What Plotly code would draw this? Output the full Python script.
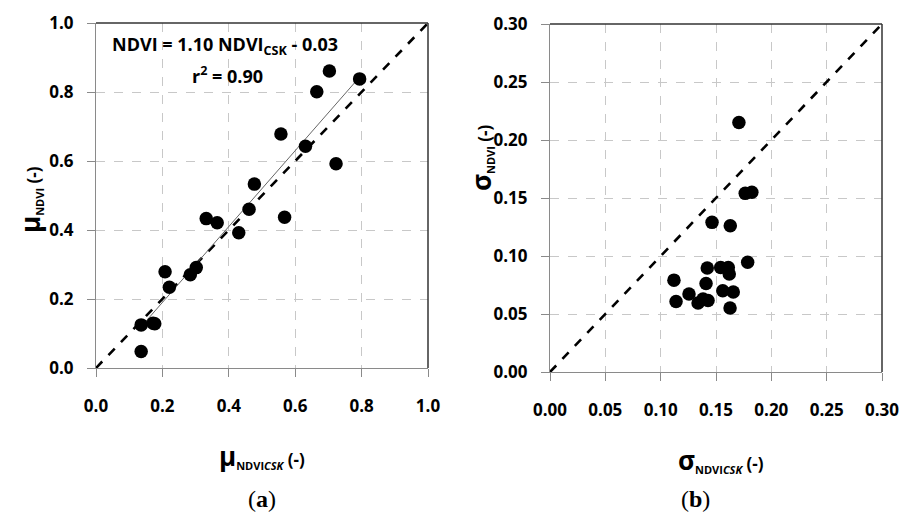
import plotly.graph_objects as go

# Panel (a): mean NDVI, field vs CSK-derived
mu_csk = [0.136, 0.136, 0.172, 0.177, 0.208, 0.221, 0.284, 0.302, 0.332, 0.365,
          0.430, 0.461, 0.477, 0.568, 0.557, 0.631, 0.665, 0.703, 0.723, 0.794]
mu_ndvi = [0.048, 0.125, 0.130, 0.128, 0.279, 0.234, 0.270, 0.291, 0.433, 0.421,
           0.392, 0.460, 0.533, 0.437, 0.678, 0.643, 0.801, 0.861, 0.592, 0.838]

# Panel (b): standard deviation of NDVI
sd_csk = [0.1707, 0.1764, 0.1824, 0.1464, 0.1629, 0.1786, 0.1421, 0.1542, 0.1611,
          0.1620, 0.1120, 0.1410, 0.1256, 0.1561, 0.1656, 0.1139, 0.1338, 0.1383,
          0.1428, 0.1627]
sd_ndvi = [0.215, 0.154, 0.155, 0.129, 0.126, 0.0947, 0.0896, 0.0901, 0.0901,
           0.0844, 0.0792, 0.0763, 0.0672, 0.0700, 0.0689, 0.0608, 0.0594, 0.0629,
           0.0617, 0.0551]

# Linear fit reported on panel (a)
slope, intercept, r2 = 1.10, -0.03, 0.90

a_ticks = [0.0, 0.2, 0.4, 0.6, 0.8, 1.0]
b_ticks = [0.00, 0.05, 0.10, 0.15, 0.20, 0.25, 0.30]

fig = go.Figure()

marker = dict(color="black", size=13.5)

# 1:1 lines
fig.add_trace(go.Scatter(x=[0, 1], y=[0, 1], mode="lines",
                         line=dict(color="black", width=2.6, dash="dash"),
                         xaxis="x", yaxis="y", showlegend=False))
fig.add_trace(go.Scatter(x=[0, 0.3], y=[0, 0.3], mode="lines",
                         line=dict(color="black", width=2.6, dash="dash"),
                         xaxis="x2", yaxis="y2", showlegend=False))

# regression line over the data range
x0, x1 = min(mu_csk), max(mu_csk)
fig.add_trace(go.Scatter(x=[x0, x1], y=[slope * x0 + intercept, slope * x1 + intercept],
                         mode="lines", line=dict(color="#666666", width=1),
                         xaxis="x", yaxis="y", showlegend=False))

fig.add_trace(go.Scatter(x=mu_csk, y=mu_ndvi, mode="markers", marker=marker,
                         xaxis="x", yaxis="y", showlegend=False))
fig.add_trace(go.Scatter(x=sd_csk, y=sd_ndvi, mode="markers", marker=marker,
                         xaxis="x2", yaxis="y2", showlegend=False))

tickfont = dict(family="Open Sans", size=17, color="black", weight="bold")
common = dict(showgrid=True, gridcolor="#c8c8c8", griddash="dash", gridwidth=1,
              zeroline=False, showline=True, linecolor="#8a8a8a", linewidth=1.2,
              ticks="outside", ticklen=8, tickcolor="#8a8a8a", tickfont=tickfont,
              mirror=False, automargin=False)

W, H = 905, 517
def px(v):
    return v / W
def py(v):
    return 1 - v / H

fig.update_layout(
    width=W, height=H, margin=dict(l=0, r=0, t=0, b=0),
    paper_bgcolor="white", plot_bgcolor="white",
    xaxis=dict(domain=[px(96), px(428)], range=[0, 1], tickvals=a_ticks,
               tickformat=".1f", anchor="y", ticklabelstandoff=14, **common),
    yaxis=dict(domain=[py(368), py(23)], range=[0, 1], tickvals=a_ticks,
               tickformat=".1f", anchor="x", ticklabelstandoff=10, **common),
    xaxis2=dict(domain=[px(550), px(882)], range=[0, 0.3], tickvals=b_ticks,
                tickformat=".2f", anchor="y2", ticklabelstandoff=14, **common),
    yaxis2=dict(domain=[py(372), py(24)], range=[0, 0.3], tickvals=b_ticks,
                tickformat=".2f", anchor="x2", ticklabelstandoff=10, **common),
)

# darker top/right frame edges
for xr, yr in (("x domain", "y domain"), ("x2 domain", "y2 domain")):
    fig.add_shape(type="line", xref=xr, yref=yr, x0=0, x1=1, y0=1, y1=1,
                  line=dict(color="#333333", width=1.5))
    fig.add_shape(type="line", xref=xr, yref=yr, x0=1, x1=1, y0=0, y1=1,
                  line=dict(color="#333333", width=1.5))

title_font = dict(family="Open Sans", size=17, color="black", weight="bold")
big = "font-size:26px"
small = "font-size:11px"


def label(text, x, y, font, angle=0):
    return dict(text=text, x=px(x), y=py(y), xref="paper", yref="paper",
                xanchor="center", yanchor="middle", showarrow=False,
                textangle=angle, font=font)


eq_font = dict(family="Open Sans", size=18, color="black", weight="bold")
serif = dict(family="Liberation Serif", size=24, color="black")

annotations = [
    label(f"NDVI = {slope:.2f} NDVI<sub>CSK</sub> - {abs(intercept):.2f}", 225, 45, eq_font),
    label(f"r<sup>2</sup> = {r2:.2f}", 227, 75, eq_font),
    label(f"<span style=\"{big}\">μ</span><sub><span style=\"{small}\">NDVI<i>CSK</i></span></sub> (-)",
          262, 456, title_font),
    label(f"<span style=\"{big}\">μ</span><sub><span style=\"{small}\">NDVI</span></sub> (-)",
          30, 200, title_font, -90),
    label(f"<span style=\"{big}\">σ</span><sub><span style=\"{small}\">NDVI<i>CSK</i></span></sub> (-)",
          721, 460, title_font),
    label(f"<span style=\"{big}\">σ</span><sub><span style=\"{small}\">NDVI</span></sub> (-)",
          481, 158, title_font, -90),
    label("(<b>a</b>)", 262, 499, serif),
    label("(<b>b</b>)", 695, 499, serif),
]
fig.update_layout(annotations=annotations)

fig.write_html("out.html")
